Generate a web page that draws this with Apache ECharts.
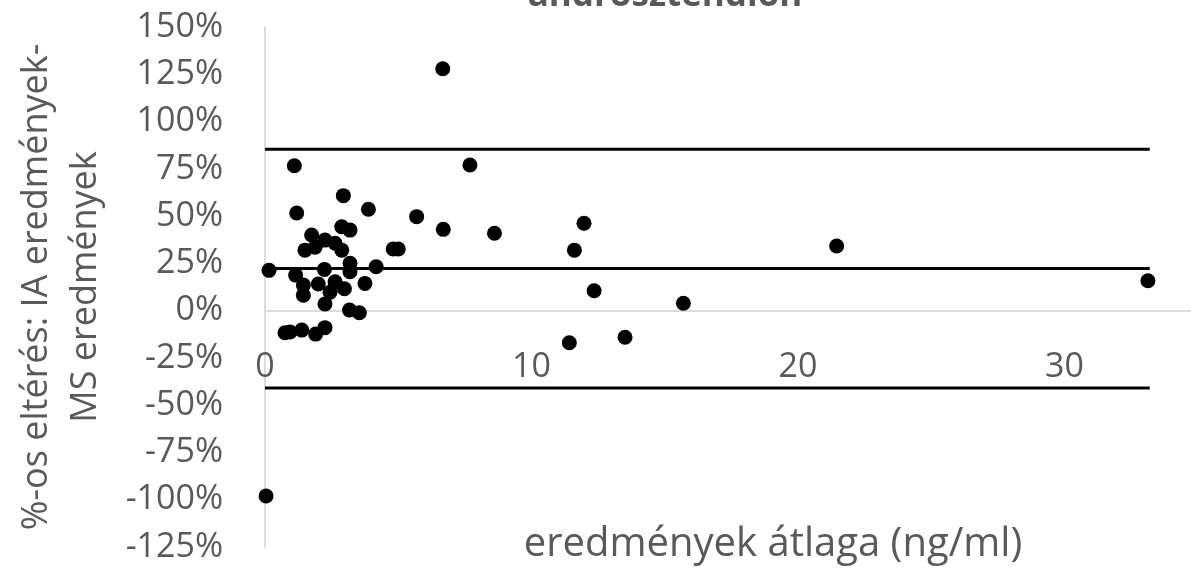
<!DOCTYPE html>
<html>
<head>
<meta charset="utf-8">
<script src="https://cdn.jsdelivr.net/npm/echarts@6/dist/echarts.min.js"></script>
<style>
  html, body { margin: 0; padding: 0; overflow: hidden; background: #ffffff; }
  #chart { position: absolute; left: 0; top: 0; width: 1340px; height: 572px; }
</style>
</head>
<body>
<div id="chart"></div>
<script>
// Mean of both methods (ng/ml)
const meanValues = [
  0.04, 0.15, 0.75, 0.94, 1.10, 1.19, 1.15, 1.38, 1.44, 1.44,
  1.50, 1.75, 1.88, 1.90, 2.00, 2.25, 2.25, 2.23, 2.25, 2.44,
  2.63, 2.63, 2.88, 2.88, 2.94, 2.98, 3.19, 3.19, 3.19, 3.17,
  3.54, 3.75, 3.88, 4.17, 4.81, 5.00, 5.69, 6.69, 6.67, 7.69,
  8.61, 11.42, 11.61, 11.97, 12.35, 13.51, 15.70, 21.45, 33.13
];
// Percent difference: (IA - MS)
const percentDiff = [
  -98.0, 21.3, -11.7, -11.3, 76.6, 51.6, 18.8, -10.3, 13.5, 8.2,
  32.0, 40.0, 33.5, -12.4, 14.1, -9.0, 3.5, 21.8, 37.3, 9.7,
  35.6, 15.3, 44.4, 32.0, 60.8, 11.6, 42.6, 25.0, 20.6, 0.3,
  -1.1, 14.4, 53.6, 23.2, 32.6, 32.6, 49.7, 43.0, 127.9, 77.0,
  40.9, -17.0, 32.0, 46.2, 10.5, -14.1, 3.9, 34.2, 15.8
];
// Upper limit, mean difference, lower limit (%)
const limitValues = [85.3, 22.3, -40.9];
// x extent of the limit lines
const limitSpan = [0, 33.2];

const titleText = 'androsztendion';
const xAxisTitle = 'eredmények átlaga (ng/ml)';
const yAxisTitle = '%-os eltérés: IA eredmények-\nMS eredmények';

const FONT = '"Open Sans", "Noto Sans", sans-serif';
const GRAY = '#595959';
const AXIS_GRAY = '#d0d0d0';

const points = meanValues.map((x, i) => [x, percentDiff[i]]);

const limitSeries = limitValues.map(v => ({
  type: 'line',
  data: limitSpan.map(x => [x, v]),
  symbol: 'none',
  silent: true,
  lineStyle: { color: '#000000', width: 3 },
  z: 2
}));

const chart = echarts.init(document.getElementById('chart'), null, { renderer: 'canvas' });
chart.setOption({
  animation: false,
  backgroundColor: '#ffffff',
  title: {
    text: titleText,
    left: 660,
    textAlign: 'center',
    top: -26,
    textStyle: { fontFamily: FONT, fontSize: 35, fontWeight: 'bold', color: GRAY }
  },
  grid: {
    left: 265, top: 27, width: 1066, height: 520,
    outerBoundsMode: 'none'
  },
  xAxis: {
    type: 'value',
    position: 'bottom',
    min: 0, max: 40, interval: 10,
    name: xAxisTitle,
    nameLocation: 'middle',
    nameGap: -22,
    nameMoveOverlap: false,
    nameTextStyle: { fontFamily: FONT, fontSize: 40, color: GRAY, padding: [0, 50, 0, 0] },
    axisLine: { show: false, onZero: false },
    axisTick: { show: false },
    splitLine: { show: false },
    // tick labels sit just under the zero line, inside the plot
    axisLabel: { fontFamily: FONT, fontSize: 34, color: GRAY, margin: -197 }
  },
  yAxis: {
    type: 'value',
    min: -125, max: 150, interval: 25,
    name: yAxisTitle,
    nameLocation: 'middle',
    nameGap: 155,
    nameMoveOverlap: false,
    nameTextStyle: { fontFamily: FONT, fontSize: 36, color: GRAY, lineHeight: 49 },
    axisLine: { onZero: false, lineStyle: { color: AXIS_GRAY, width: 1.5 } },
    axisTick: { show: false },
    splitLine: { show: false },
    axisLabel: { fontFamily: FONT, fontSize: 34, color: GRAY, margin: 42, formatter: '{value}%' }
  },
  series: [
    ...limitSeries,
    {
      type: 'scatter',
      data: points,
      symbol: 'circle',
      symbolSize: 15,
      itemStyle: { color: '#000000', opacity: 1 },
      z: 3,
      // horizontal axis line crossing at 0%
      markLine: {
        silent: true,
        symbol: 'none',
        label: { show: false },
        lineStyle: { color: AXIS_GRAY, width: 1.5, type: 'solid' },
        z: 1,
        data: [{ yAxis: 0 }]
      }
    }
  ]
});
</script>
</body>
</html>
